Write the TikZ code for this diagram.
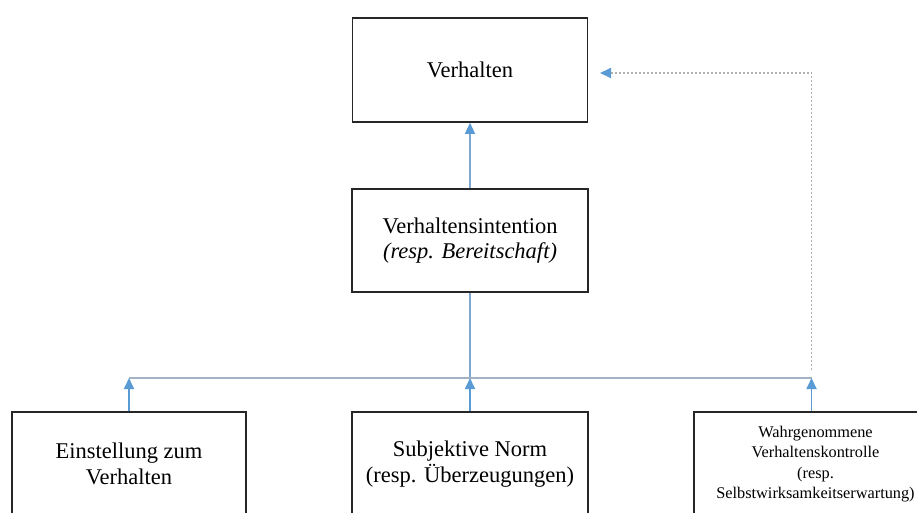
\documentclass[tikz,border=0pt]{standalone}
\usepackage{fontspec}
\setmainfont{Liberation Serif}
\usetikzlibrary{arrows.meta}
\definecolor{boxline}{HTML}{262626}
\definecolor{arrowblue}{HTML}{5B9BD5}
\definecolor{stemblue}{HTML}{7EA6CF}
\definecolor{busline}{HTML}{A3B3C6}
\definecolor{dotgray}{HTML}{B0B0B0}
\begin{document}
\begin{tikzpicture}[x=1pt,y=-1pt,
  box/.style={draw=boxline, line width=1.5pt, fill=white, align=center,
    inner sep=0pt, font=\fontsize{22.5}{25.5}\selectfont},
  smallbox/.style={box, font=\fontsize{16.3}{20.5}\selectfont},
  tip/.style={-{Triangle[length=11pt,width=10pt,color=arrowblue,fill=arrowblue]}},
  uparrow/.style={tip, draw=arrowblue, line width=1.8pt},
  thinarrow/.style={tip, draw=stemblue, line width=1.1pt},
  stem/.style={draw=stemblue, line width=1.1pt},
  bus/.style={draw=busline, line width=1.4pt},
  feedback/.style={tip, draw=dotgray, line width=1.8pt, dash pattern=on 1.8pt off 2.2pt}]
\useasboundingbox (0,0) rectangle (917,512);
\clip (0,0) rectangle (917,512);

% boxes
\node[box, minimum width=235pt, minimum height=104pt] (verh) at (470,70) {Verhalten};
\node[box, minimum width=236pt, minimum height=103pt] (intent) at (470,240.5)
  {Verhaltensintention\\\textit{(resp. Bereitschaft)}};
\node[box, minimum width=234pt, minimum height=104pt] (einst) at (129,464)
  {Einstellung zum\\Verhalten};
\node[box, minimum width=236pt, minimum height=104pt] (norm) at (470,464)
  {Subjektive Norm\\(resp. Überzeugungen)};
\node[smallbox, minimum width=235pt, minimum height=104pt] (kontr) at (811.5,464)
  {\hspace*{8pt}Wahrgenommene\\\hspace*{8pt}Verhaltenskontrolle\\\hspace*{8pt}(resp.\\\hspace*{8pt}Selbstwirksamkeitserwartung)};

% junction points on the collecting line
\coordinate (jl) at (einst.north |- 0,378);
\coordinate (jm) at (norm.north |- 0,378);
\coordinate (jr) at (kontr.north |- 0,378);
\coordinate (fbstart) at (kontr.north |- 0,370);
\coordinate (fbcorner) at (kontr.north |- 0,73);
\coordinate (fbtip) at (600,73);

% connectors
\draw[thinarrow] (intent.north) -- (verh.south);
\draw[stem] (intent.south) -- (jm);
\draw[bus] (jl) -- (jr);
\draw[uparrow] (einst.north) -- (jl);
\draw[uparrow] (norm.north) -- (jm);
\draw[uparrow] (kontr.north) -- (jr);
\draw[feedback] (fbstart) -- (fbcorner) -- (fbtip);
\end{tikzpicture}
\end{document}
